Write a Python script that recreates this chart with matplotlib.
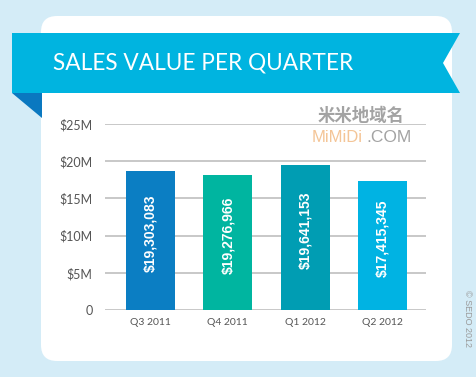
import numpy as np
import matplotlib.pyplot as plt
from matplotlib.patches import FancyBboxPatch, Polygon

# data
quarters = ['Q3 2011', 'Q4 2011', 'Q1 2012', 'Q2 2012']
sales_m = [18.7, 18.15, 19.5, 17.3]
value_labels = ['$19,303,083', '$19,276,966', '$19,641,153', '$17,415,345']
bar_colors = ['#0b7ec3', '#00b5a0', '#009db3', '#00b3e3']
yticks = [0, 5, 10, 15, 20, 25]
ytick_labels = ['0', '$5M', '$10M', '$15M', '$20M', '$25M']

W, H = 477, 377
fig = plt.figure(figsize=(W / 100, H / 100), dpi=100)
fig.patch.set_facecolor('#d4ecf7')

# background layer in pixel coordinates
bg = fig.add_axes([0, 0, 1, 1])
bg.set_xlim(0, W)
bg.set_ylim(H, 0)
bg.axis('off')
bg.add_patch(FancyBboxPatch((41, 16), 411, 345, boxstyle='round,pad=0,rounding_size=16',
                            fc='white', ec='none'))
bg.add_patch(Polygon([(12, 93), (42, 93), (42, 118)], closed=True, fc='#0a78c0', ec='none'))
bg.add_patch(Polygon([(12, 33), (460, 33), (443, 63), (460, 93), (12, 93)], closed=True,
                     fc='#00b4e0', ec='none'))
bg.text(53, 63, 'SALES VALUE PER QUARTER', color='white', fontsize=16.3, family='Lato',
        va='center', ha='left')
bg.text(468, 318, '\u00a9 SEDO 2012', color='#9a9a9a', fontsize=6.5, family='Liberation Sans',
        rotation=270, va='center', ha='center')
# watermark
bg.text(318, 116, '米米地域名', color='#8c8c8c', alpha=0.8, fontsize=12.5,
        family=['Noto Sans CJK SC', 'DejaVu Sans'], weight='bold', va='center', ha='left')
bg.text(363, 138, 'MiMiDi', color='#f4c597', fontsize=12, family='Liberation Sans',
        va='center', ha='right')
bg.text(366, 138, '.COM', color='#8c8c8c', alpha=0.8, fontsize=12.5, family='Liberation Sans',
        va='center', ha='left')

# chart
ax = fig.add_axes([105 / W, (H - 310) / H, (426 - 105) / W, (310 - 124) / H])
ax.set_facecolor('none')
x = np.arange(len(quarters))
ax.bar(x, sales_m, width=0.634, color=bar_colors, zorder=3)
for xi, h, lab in zip(x, sales_m, value_labels):
    ax.text(xi, h / 2 + 1, lab, rotation=90, color='white', fontsize=10, weight='bold',
            family='Liberation Sans', ha='center', va='center', zorder=4)

ax.set_xlim(-0.588, 3.563)
ax.set_ylim(0, 25)
ax.set_yticks(yticks)
ax.set_yticklabels(ytick_labels, family='Lato', fontsize=9, color='#555555')
ax.set_xticks(x)
ax.set_xticklabels(quarters, family='Lato', fontsize=7.5, color='#555555')
ax.tick_params(length=0)
ax.tick_params(axis='y', pad=9)
ax.tick_params(axis='x', pad=6)
ax.grid(axis='y', color='#c8c8c8', linewidth=1.4, zorder=1)
ax.set_axisbelow(True)
for s in ax.spines.values():
    s.set_visible(False)

fig.savefig('out.png', dpi=100, facecolor=fig.get_facecolor())
